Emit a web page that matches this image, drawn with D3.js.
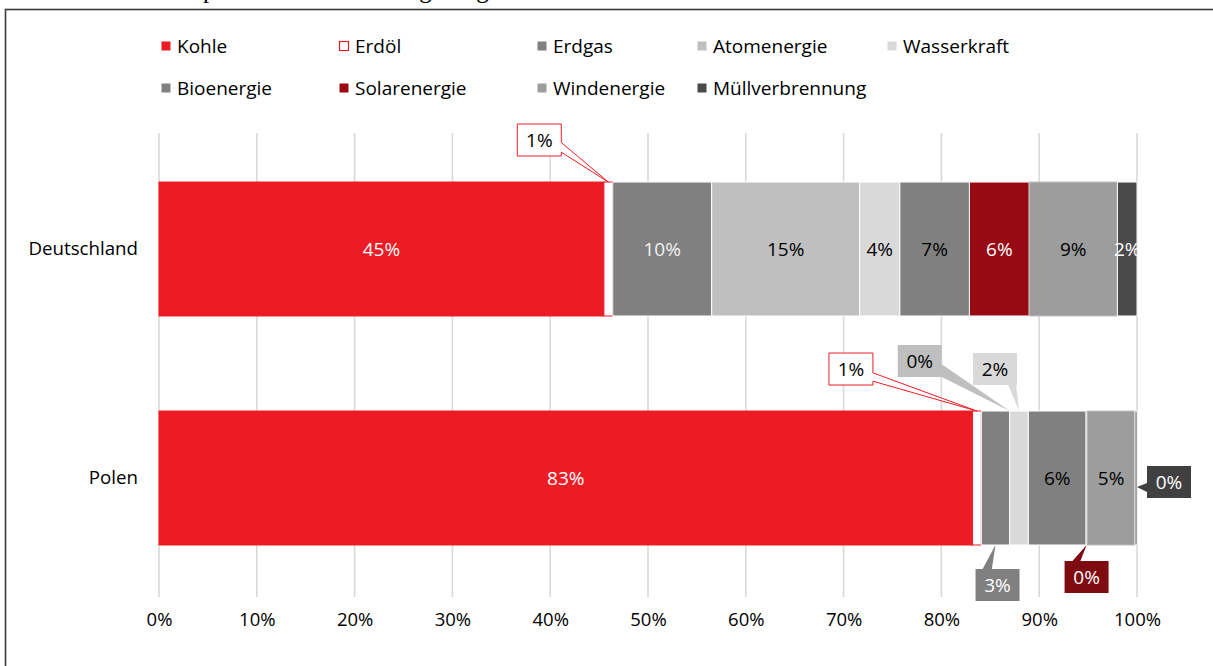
<!DOCTYPE html>
<html>
<head>
<meta charset="utf-8">
<script src="https://cdn.jsdelivr.net/npm/d3@7"></script>
<style>
  html, body { margin: 0; padding: 0; background: #fff; }
  svg { display: block; }
  text { font-family: "Open Sans", "Noto Sans", sans-serif; }
</style>
</head>
<body>
<svg id="chart" width="1213" height="666"></svg>
<script>
// ---------- data ----------
const categories = ["Deutschland", "Polen"];
const sources = ["Kohle", "Erdöl", "Erdgas", "Atomenergie", "Wasserkraft",
                 "Bioenergie", "Solarenergie", "Windenergie", "Müllverbrennung"];
const deutschland = [45.4, 0.9, 10.1, 15.1, 4.1, 7.1, 6.1, 9.0, 2.0];
const polen       = [83.1, 0.9, 2.9, 0.0, 1.9, 5.9, 0.1, 4.9, 0.2];
const xTicks = [0, 0.1, 0.2, 0.3, 0.4, 0.5, 0.6, 0.7, 0.8, 0.9, 1.0];
const titleText = "Stromproduktion nach Energieträgern";

// ---------- style ----------
const fills   = ["#ed1c24", "#ffffff", "#808080", "#bfbfbf", "#d9d9d9",
                 "#808080", "#970a14", "#9d9d9d", "#4a4a4a"];
const strokes = ["#ed1c24", "#ed1c24", "#ffffff", "#ffffff", "#ffffff",
                 "#ffffff", "#ffffff", "#bdbdbd", "#ffffff"];
const labelColors = ["#ffffff", "#000000", "#f2f2f2", "#000000", "#000000",
                     "#000000", "#ffffff", "#000000", "#ffffff"];
// callouts for small segments: anchor side of segment, box offset, wedge side & fractions
const callouts = {
  "Deutschland|Erdöl": {anchor: "top", dx: -69, dy: -42, side: "right", t1: 0.58, t2: 0.88},
  "Polen|Erdöl":       {anchor: "top", dx: -126, dy: -42, side: "right", t1: 0.62, t2: 0.88},
  "Polen|Atomenergie": {anchor: "top", dx: -90, dy: -50, side: "right", t1: 0.6, t2: 1.0, fill: "#bfbfbf"},
  "Polen|Wasserkraft": {anchor: "top", dx: -24, dy: -42, side: "bottom", t1: 0.8, t2: 0.98},
  "Polen|Erdgas":      {anchor: "bottom", dx: 2, dy: 40, side: "top", t1: 0.16, t2: 0.37},
  "Polen|Solarenergie":{anchor: "bottom", dx: 0, dy: 32, side: "top", t1: 0.18, t2: 0.36, fill: "#7d0b0f"},
  "Polen|Müllverbrennung": {anchor: "right", dx: 32, dy: -5, tipDy: 9, side: "left", t1: 0.53, t2: 0.81, fill: "#404040"}
};
const legendCols = [161, 339, 537, 697, 887];
const legendRows = [46, 88];

// ---------- build ----------
const svg = d3.select("#chart");

// frame
svg.append("rect").attr("x", 5.5).attr("y", 9.5).attr("width", 1400).attr("height", 800)
  .attr("fill", "#fff").attr("stroke", "#3a3a3a").attr("stroke-width", 1.6);

// title (cut off at the top edge, as in the reference)
svg.append("text").attr("x", 142).attr("y", -2)
  .style("font-family", "'Liberation Serif', 'DejaVu Serif', serif")
  .attr("font-size", 25).attr("fill", "#000").text(titleText);

const x = d3.scaleLinear().domain([0, 1]).range([159, 1137]);
const y = d3.scaleBand().domain(categories).range([134.5, 592.5])
  .paddingInner(0.415).paddingOuter(0.2075);

// gridlines
svg.append("g").selectAll("line").data(xTicks).join("line")
  .attr("x1", d => x(d)).attr("x2", d => x(d))
  .attr("y1", 133).attr("y2", 597)
  .attr("stroke", "#d9d9d9").attr("stroke-width", 1.6);

// x axis labels
const xAxis = d3.axisBottom(x).tickValues(xTicks).tickFormat(d3.format(".0%")).tickSize(0).tickPadding(0);
const gx = svg.append("g").attr("transform", "translate(0,613)").call(xAxis);
gx.select(".domain").remove();
gx.selectAll("text").attr("font-size", 18.5).attr("fill", "#000")
  .style("font-family", "'Open Sans', sans-serif");

// y axis labels
const yAxis = d3.axisLeft(y).tickSize(0).tickPadding(0);
const gy = svg.append("g").attr("transform", "translate(138,0)").call(yAxis);
gy.select(".domain").remove();
gy.selectAll("text").attr("font-size", 18.7).attr("fill", "#000")
  .style("font-family", "'Open Sans', sans-serif");

// stack
const table = categories.map((c, i) => {
  const row = {category: c};
  const vals = i === 0 ? deutschland : polen;
  sources.forEach((s, j) => row[s] = vals[j]);
  return row;
});
const stack = d3.stack().keys(sources).offset(d3.stackOffsetExpand);
const series = stack(table);

const gBars = svg.append("g");
series.forEach((ser, si) => {
  gBars.selectAll(null).data(ser).join("rect")
    .attr("x", d => x(d[0]))
    .attr("y", d => y(d.data.category))
    .attr("width", d => Math.max(0, x(d[1]) - x(d[0])))
    .attr("height", y.bandwidth())
    .attr("fill", fills[si])
    .attr("stroke", strokes[si])
    .attr("stroke-width", 1);
});

// labels
const gLab = svg.append("g");
const calloutGroup = svg.append("g");
function calloutPath(x0, y0, x1, y1, side, t1, t2, tx, ty) {
  const w = x1 - x0, h = y1 - y0, pts = [];
  pts.push([x0, y0]);
  if (side === "top") pts.push([x0 + w * t1, y0], [tx, ty], [x0 + w * t2, y0]);
  pts.push([x1, y0]);
  if (side === "right") pts.push([x1, y0 + h * t1], [tx, ty], [x1, y0 + h * t2]);
  pts.push([x1, y1]);
  if (side === "bottom") pts.push([x0 + w * t2, y1], [tx, ty], [x0 + w * t1, y1]);
  pts.push([x0, y1]);
  if (side === "left") pts.push([x0, y0 + h * t2], [tx, ty], [x0, y0 + h * t1]);
  return "M" + pts.map(p => p.join(",")).join("L") + "Z";
}

series.forEach((ser, si) => {
  ser.forEach(d => {
    const cat = d.data.category;
    const pct = Math.round((d[1] - d[0]) * 100) + "%";
    const key = cat + "|" + sources[si];
    const x0 = x(d[0]), x1 = x(d[1]);
    const yTop = y(cat), yBot = y(cat) + y.bandwidth(), yMid = yTop + y.bandwidth() / 2;
    const c = callouts[key];
    if (!c) {
      gLab.append("text")
        .attr("x", (x0 + x1) / 2).attr("y", yMid)
        .attr("text-anchor", "middle").attr("dominant-baseline", "central")
        .attr("font-size", 19).attr("fill", labelColors[si]).text(pct);
    } else {
      let ax, ay;
      if (c.anchor === "top") { ax = (x0 + x1) / 2; ay = yTop; }
      else if (c.anchor === "bottom") { ax = (x0 + x1) / 2; ay = yBot; }
      else { ax = x1; ay = yMid + (c.tipDy || 0); }
      const bw = 44, bh = 32;
      const cx = ax + c.dx, cy = ay + c.dy;
      const bx0 = cx - bw / 2, by0 = cy - bh / 2;
      const fill = si === 1 ? "#ffffff" : (c.fill || fills[si]);
      const stroke = si === 1 ? "#ed1c24" : "none";
      calloutGroup.append("path")
        .attr("d", calloutPath(bx0, by0, bx0 + bw, by0 + bh, c.side, c.t1, c.t2, ax, ay))
        .attr("fill", fill).attr("stroke", stroke).attr("stroke-width", 1);
      const tc = (fill === "#ffffff" || fill === "#bfbfbf" || fill === "#d9d9d9") ? "#000" : "#fff";
      calloutGroup.append("text")
        .attr("x", cx).attr("y", cy)
        .attr("text-anchor", "middle").attr("dominant-baseline", "central")
        .attr("font-size", 19).attr("fill", tc).text(pct);
    }
  });
});

// legend
const gLeg = svg.append("g");
sources.forEach((s, i) => {
  const col = i < 5 ? i : i - 5;
  const row = i < 5 ? 0 : 1;
  const lx = legendCols[col], ly = legendRows[row];
  gLeg.append("rect").attr("x", lx + 0.5).attr("y", ly - 4.5).attr("width", 9).attr("height", 9)
    .attr("fill", fills[i]).attr("stroke", i === 1 ? "#ed1c24" : "none").attr("stroke-width", 1.2);
  gLeg.append("text").attr("x", lx + 16).attr("y", ly).attr("dominant-baseline", "central")
    .attr("font-size", 19).attr("fill", "#000").text(s);
});
</script>
</body>
</html>
